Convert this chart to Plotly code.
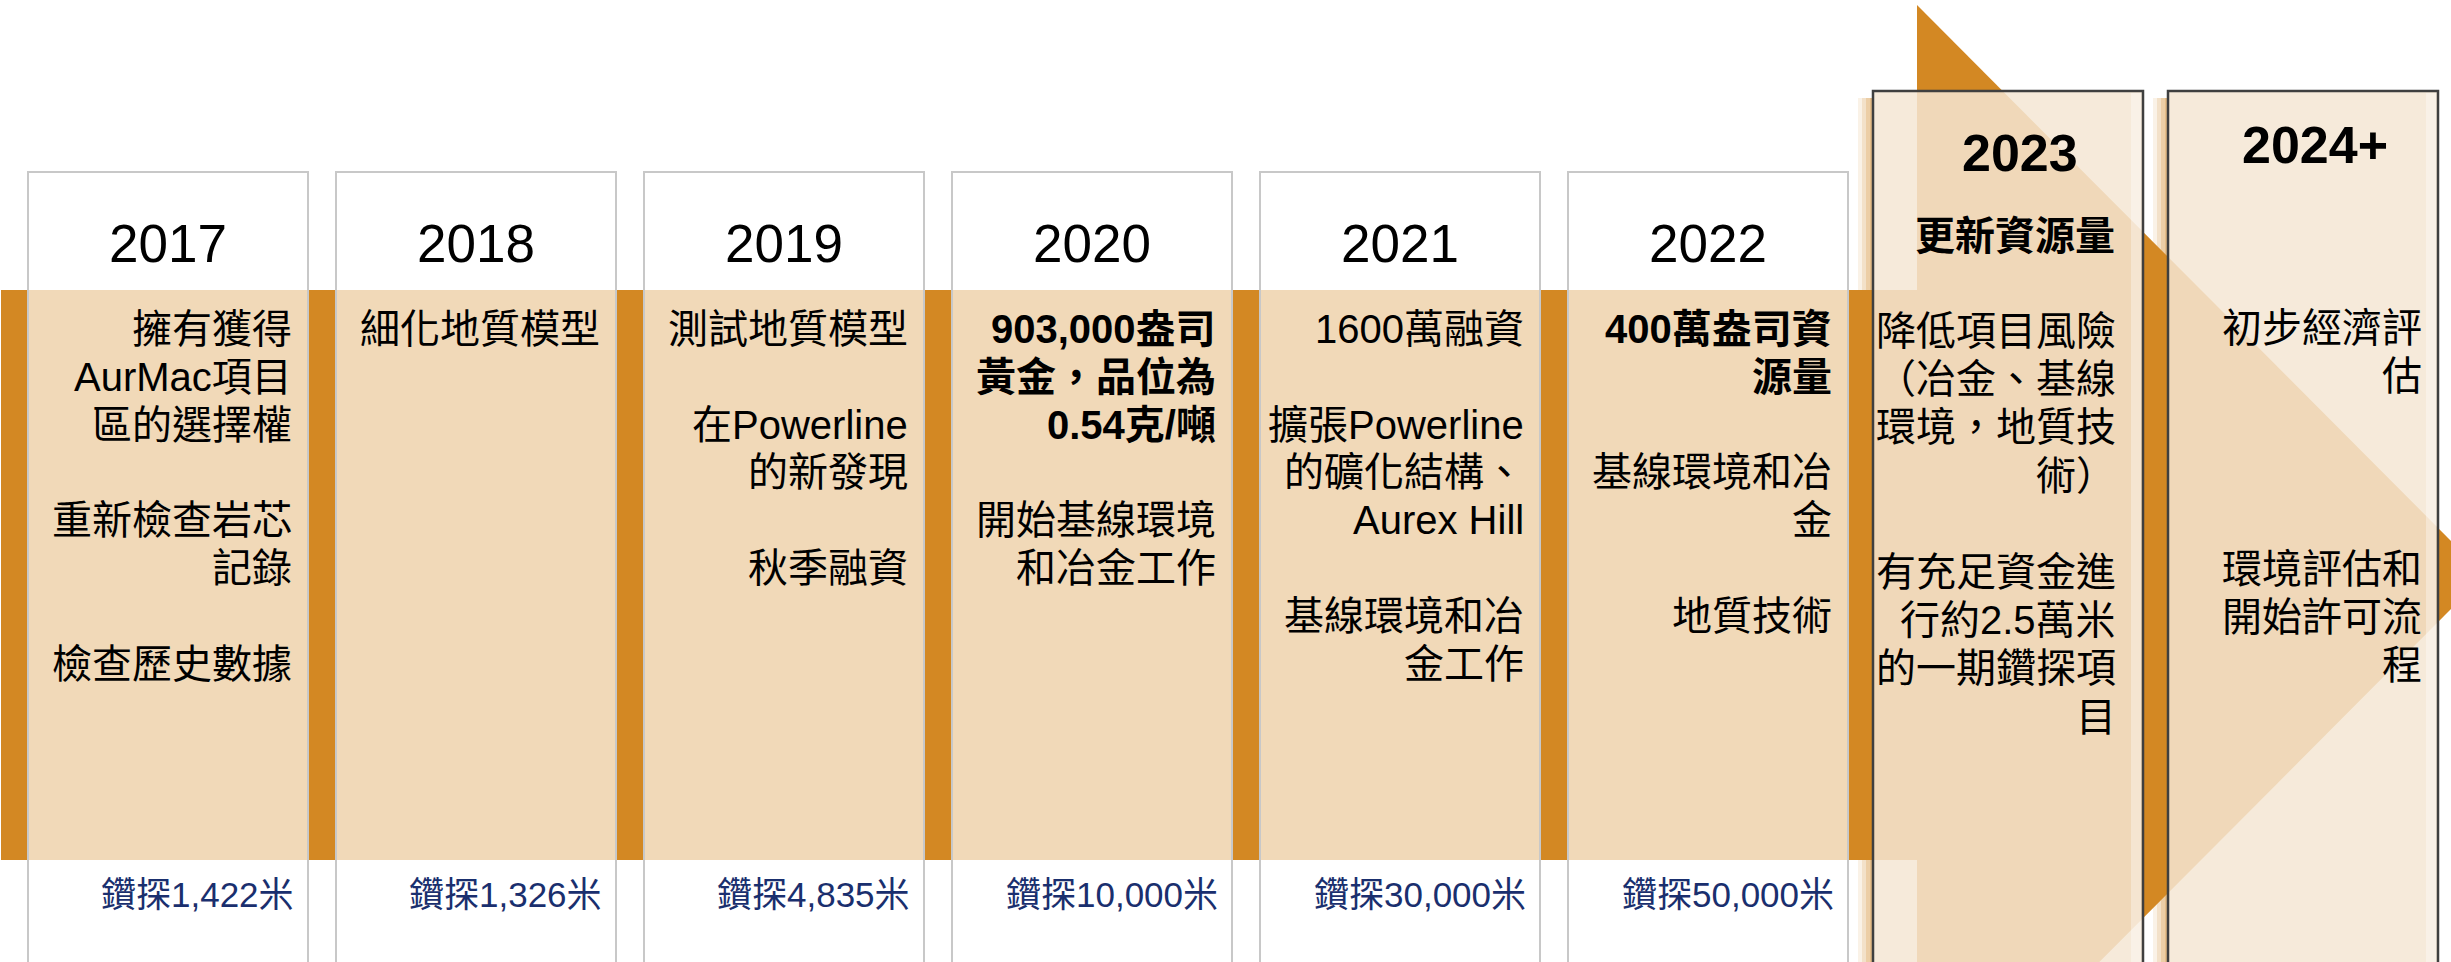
import plotly.graph_objects as go

# ---- data ----
years = ["2017", "2018", "2019", "2020", "2021", "2022"]
drill_labels = ["鑽探1,422米", "鑽探1,326米", "鑽探4,835米",
                "鑽探10,000米", "鑽探30,000米", "鑽探50,000米"]

# text lines per year ("" = empty line)
notes_2017 = ["擁有獲得", "AurMac項目", "區的選擇權", "", "重新檢查岩芯", "記錄", "", "檢查歷史數據"]
notes_2018 = ["細化地質模型"]
notes_2019 = ["測試地質模型", "", "在Powerline", "的新發現", "", "秋季融資"]
notes_2020 = ["903,000盎司", "黃金，品位為", "0.54克/噸", "", "開始基線環境", "和冶金工作"]
notes_2021 = ["1600萬融資", "", "擴張Powerline", "的礦化結構、", "Aurex Hill", "", "基線環境和冶", "金工作"]
notes_2022 = ["400萬盎司資", "源量", "", "基線環境和冶", "金", "", "地質技術"]
notes = [notes_2017, notes_2018, notes_2019, notes_2020, notes_2021, notes_2022]
bold_lines = [0, 0, 0, 3, 0, 2]  # number of leading bold lines

future_years = ["2023", "2024+"]
heading_2023 = "更新資源量"
notes_2023 = ["降低項目風險", "（冶金、基線", "環境，地質技", "術）", "",
              "有充足資金進", "行約2.5萬米", "的一期鑽探項", "目"]
notes_2024 = ["初步經濟評", "估", "", "", "", "環境評估和", "開始許可流", "程"]

# ---- style ----
W, H = 2451, 962
ORANGE = "rgb(211,136,35)"
SHADOW = "229,189,136"
FONT = "Liberation Sans, Arial, Noto Sans CJK TC, sans-serif"
NAVY = "#1a2f6e"

band_top, band_bot = 290, 860
box_left0, box_step, box_w = 28, 308, 280
line_step = 47.8
body_size = 40

fig = go.Figure()
fig.add_trace(go.Scatter(x=[0, W], y=[0, H], mode="markers",
                         marker=dict(opacity=0), hoverinfo="skip", showlegend=False))

shapes = []
annotations = []

# soft shadows left of the two future boxes
future_left = [1873, 2168]
future_w = 270
for fx in future_left:
    for k, op in enumerate([0.2, 0.45, 0.75, 1.0]):
        shapes.append(dict(type="rect", x0=fx - 15 + k * 4, x1=fx - 15 + (k + 1) * 4 if k < 3 else fx,
                           y0=98, y1=H + 10, line=dict(width=0),
                           fillcolor="rgba(%s,%.2f)" % (SHADOW, op)))

# timeline band + arrow
shapes.append(dict(type="rect", x0=1, x1=1917, y0=band_top, y1=band_bot,
                   line=dict(width=0), fillcolor=ORANGE))
shapes.append(dict(type="path", path="M 1917,5 L 2485,575 L 1917,1145 Z",
                   line=dict(width=0), fillcolor=ORANGE))

# past year boxes
for i, yr in enumerate(years):
    x0 = box_left0 + i * box_step
    x1 = x0 + box_w
    shapes.append(dict(type="rect", x0=x0, x1=x1, y0=172, y1=H + 10,
                       line=dict(color="#c8c8c8", width=2),
                       fillcolor="rgba(255,255,255,0.68)"))
    annotations.append(dict(x=(x0 + x1) / 2, y=243, text=yr, showarrow=False,
                            xanchor="center", yanchor="middle",
                            font=dict(family=FONT, size=53, color="black")))
    for j, line in enumerate(notes[i]):
        if not line:
            continue
        txt = "<b>%s</b>" % line if j < bold_lines[i] else line
        annotations.append(dict(x=x1 - 14, y=329 + j * line_step, text=txt, showarrow=False,
                                xanchor="right", yanchor="middle", align="right",
                                font=dict(family=FONT, size=body_size, color="black")))
    annotations.append(dict(x=x1 - 12, y=894, text=drill_labels[i], showarrow=False,
                            xanchor="right", yanchor="middle", align="right",
                            font=dict(family=FONT, size=35, color=NAVY)))

# future boxes
for fx, yr, ly in zip(future_left, future_years, [153, 145]):
    shapes.append(dict(type="rect", x0=fx, x1=fx + future_w, y0=91, y1=H + 10,
                       line=dict(color="#3f3f3f", width=2.5),
                       fillcolor="rgba(245,230,212,0.85)"))
    # faint lighter strip along the inner right edge
    shapes.append(dict(type="rect", x0=fx + future_w - 12, x1=fx + future_w - 2, y0=93, y1=H + 10,
                       line=dict(width=0), fillcolor="rgba(255,255,255,0.35)"))
    annotations.append(dict(x=fx + future_w / 2 + 12, y=ly, text="<b>%s</b>" % yr, showarrow=False,
                            xanchor="center", yanchor="middle",
                            font=dict(family=FONT, size=52, color="black")))

annotations.append(dict(x=2117, y=236, text="<b>%s</b>" % heading_2023, showarrow=False,
                        xanchor="right", yanchor="middle",
                        font=dict(family=FONT, size=body_size, color="black")))
for lines, rx, y0 in [(notes_2023, 2118, 331), (notes_2024, 2424, 328)]:
    for j, line in enumerate(lines):
        if not line:
            continue
        annotations.append(dict(x=rx, y=y0 + j * 48.2, text=line, showarrow=False,
                                xanchor="right", yanchor="middle", align="right",
                                font=dict(family=FONT, size=body_size, color="black")))

fig.update_layout(width=W, height=H, margin=dict(l=0, r=0, t=0, b=0),
                  paper_bgcolor="white", plot_bgcolor="white",
                  shapes=shapes, annotations=annotations, showlegend=False)
fig.update_xaxes(range=[0, W], visible=False, fixedrange=True)
fig.update_yaxes(range=[H, 0], visible=False, fixedrange=True)

# drop the default page margin so the figure fills the window exactly
fig.write_html("out.html", config={"displayModeBar": False},
               post_script="document.body.style.margin='0';")
